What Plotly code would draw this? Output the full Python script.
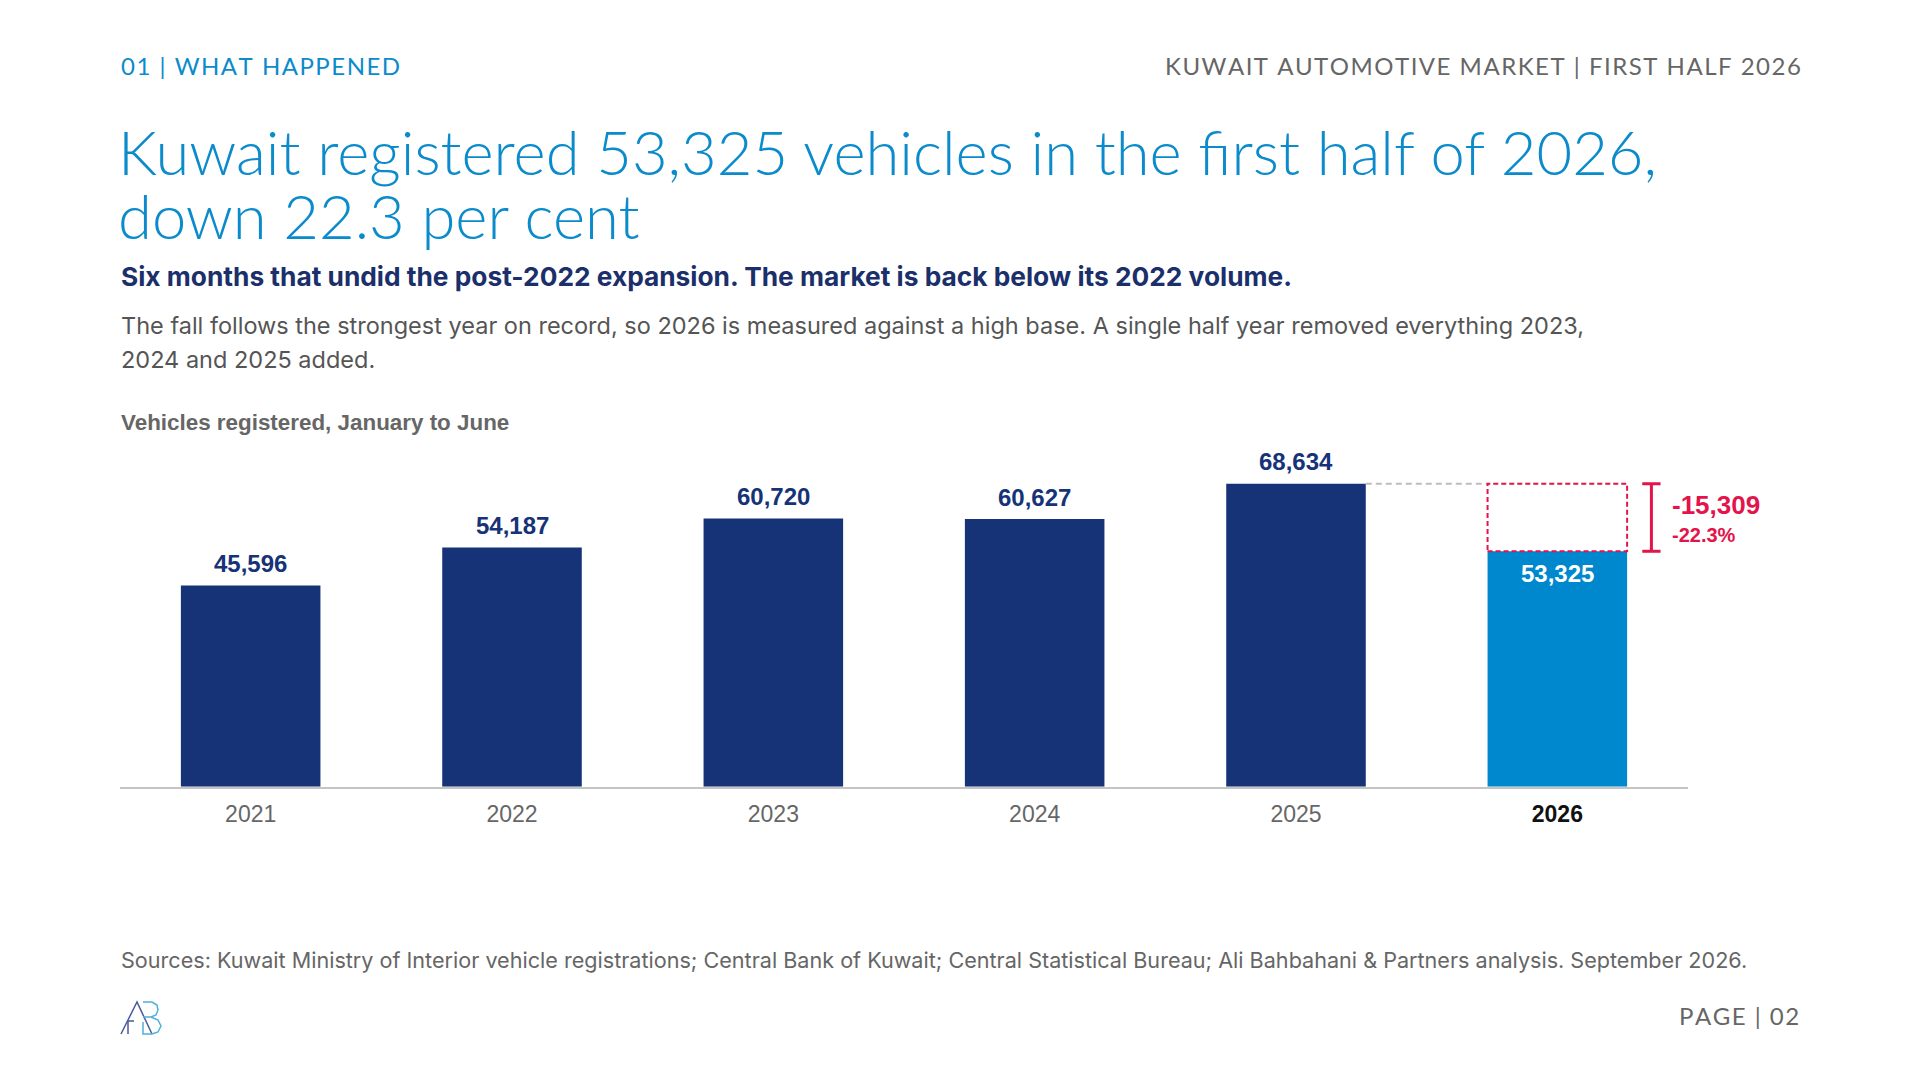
import plotly.graph_objects as go

W, H = 1920, 1080

# data
years = ["2021", "2022", "2023", "2024", "2025", "2026"]
registrations = [45596, 54187, 60720, 60627, 68634, 53325]
tick_labels = ["2021", "2022", "2023", "2024", "2025",
               "<b><span style='color:#111111'>2026</span></b>"]
change_abs = "-15,309"
change_pct = "-22.3%"

NAVY = "#163378"
BLUE = "#0088cf"
TITLE_BLUE = "#0b8bcb"
RED = "#e3134b"
GREY = "#666666"

BARGAP = 0.466
HALF = (1 - BARGAP) / 2

xpos = list(range(len(years)))


def px(x):
    return x / W


def py(y):
    return 1 - y / H


def spaced(s):
    # fake letter spacing with hair spaces
    return "\u200a".join(s)


colors = [NAVY] * (len(years) - 1) + [BLUE]

fig = go.Figure()
fig.add_trace(go.Bar(
    x=xpos,
    y=registrations,
    marker=dict(color=colors, line=dict(width=0)),
    hoverinfo="skip",
    showlegend=False,
))

annotations = []

# value labels
for i, v in zip(xpos, registrations):
    inside = i == len(years) - 1
    annotations.append(dict(x=i, y=v, xref="x", yref="y", text=f"<b>{v:,}</b>",
                            showarrow=False, yanchor="middle", yshift=-22 if inside else 22,
                            font=dict(family="Liberation Sans, Arial", size=24,
                                      color="white" if inside else NAVY)))

prev, last = registrations[-2], registrations[-1]
n = len(years) - 1

shapes = [
    # grey dashed reference at 2025 level
    dict(type="line", xref="x", yref="y", x0=n - 1 + HALF, x1=n - HALF, y0=prev, y1=prev,
         line=dict(color="#bdbdbd", width=2, dash="6px,4px")),
    # red dashed gap box
    dict(type="rect", xref="x", yref="y", x0=n - HALF, x1=n + HALF, y0=last, y1=prev,
         line=dict(color=RED, width=2, dash="5px,3px"), fillcolor="rgba(0,0,0,0)"),
    # bracket
    dict(type="line", xref="x", yref="y", x0=n + 0.36, x1=n + 0.36, y0=last, y1=prev,
         line=dict(color=RED, width=3)),
    dict(type="line", xref="x", yref="y", x0=n + 0.325, x1=n + 0.395, y0=prev, y1=prev,
         line=dict(color=RED, width=3)),
    dict(type="line", xref="x", yref="y", x0=n + 0.325, x1=n + 0.395, y0=last, y1=last,
         line=dict(color=RED, width=3)),
]

annotations += [
    dict(x=n + 0.43, y=prev, xref="x", yref="y", text=f"<b>{change_abs}</b>", showarrow=False,
         xanchor="left", yanchor="middle", yshift=-21,
         font=dict(family="Liberation Sans, Arial", size=26, color=RED)),
    dict(x=n + 0.43, y=prev, xref="x", yref="y", text=f"<b>{change_pct}</b>", showarrow=False,
         xanchor="left", yanchor="middle", yshift=-51,
         font=dict(family="Liberation Sans, Arial", size=20, color=RED)),
]


# page text
def txt(x, y, text, size, color, family, weight=400, xanchor="left"):
    annotations.append(dict(x=px(x), y=py(y), xref="paper", yref="paper", text=text,
                            showarrow=False, xanchor=xanchor, yanchor="middle", align=xanchor,
                            borderpad=0,
                            font=dict(family=family, size=size, color=color, weight=weight)))


txt(120, 65, spaced("01 | WHAT HAPPENED"), 24, TITLE_BLUE, "Lato")
txt(1802, 65, spaced("KUWAIT AUTOMOTIVE MARKET | FIRST HALF 2026"), 24, GREY, "Lato", xanchor="right")
txt(117, 151, "Kuwait registered 53,325 vehicles in the first half of 2026,", 61.5, TITLE_BLUE, "Lato", 300)
txt(117, 215, "down 22.3 per cent", 61.5, TITLE_BLUE, "Lato", 300)
txt(120, 276, "Six months that undid the post-2022 expansion. The market is back below its 2022 volume.",
    26.3, "#1b2f6b", "Inter", 700)
txt(120, 325, "The fall follows the strongest year on record, so 2026 is measured against a high base. "
    "A single half year removed everything 2023,", 23.5, "#555555", "Inter")
txt(120, 359, "2024 and 2025 added.", 23.5, "#555555", "Inter")
txt(120, 422, "<b>Vehicles registered, January to June</b>", 22.4, GREY, "Liberation Sans, Arial")
txt(120, 960, "Sources: Kuwait Ministry of Interior vehicle registrations; Central Bank of Kuwait; "
    "Central Statistical Bureau; Ali Bahbahani &amp; Partners analysis. September 2026.",
    21.6, GREY, "Inter")
txt(1800, 1015, spaced("PAGE | 02"), 24, GREY, "Lato", xanchor="right")


# logo (outline A and B)
def path(points):
    return "M " + " L ".join(f"{px(x):.5f},{py(y):.5f}" for x, y in points)


shapes += [
    dict(type="path", xref="paper", yref="paper",
         path=path([(121, 1034), (137, 1002), (152, 1034)]),
         line=dict(color="#4b5a9c", width=1.5)),
    dict(type="path", xref="paper", yref="paper",
         path=path([(128, 1034), (128, 1021), (134, 1021)]),
         line=dict(color="#4b5a9c", width=1.5)),
    dict(type="path", xref="paper", yref="paper",
         path=path([(143, 1002), (152, 1002), (157, 1005), (158, 1010), (156, 1015), (151, 1017),
                    (143, 1017)]),
         line=dict(color="#4fb0dd", width=1.5)),
    dict(type="path", xref="paper", yref="paper",
         path=path([(151, 1017), (158, 1020), (161, 1026), (158, 1032), (152, 1034), (143, 1034),
                    (143, 1022)]),
         line=dict(color="#4fb0dd", width=1.5)),
]

fig.update_layout(
    width=W,
    height=H,
    margin=dict(l=0, r=0, t=0, b=0),
    paper_bgcolor="white",
    plot_bgcolor="white",
    bargap=BARGAP,
    xaxis=dict(
        domain=[px(120), px(1688)],
        range=[-0.5, len(years) - 0.5],
        tickmode="array",
        tickvals=xpos,
        ticktext=tick_labels,
        showline=True,
        linecolor="#c4c4c4",
        linewidth=2,
        ticks="",
        showgrid=False,
        zeroline=False,
        tickfont=dict(family="Liberation Sans, Arial", size=23, color="#666666"),
        ticklabelstandoff=6,
        fixedrange=True,
    ),
    yaxis=dict(
        domain=[py(786.7), py(433.5)],
        range=[0, 80000],
        visible=False,
        showgrid=False,
        fixedrange=True,
    ),
    shapes=shapes,
    annotations=annotations,
)

fig.write_html("out.html", config={"displayModeBar": False},
               post_script="document.body.style.margin='0';")
